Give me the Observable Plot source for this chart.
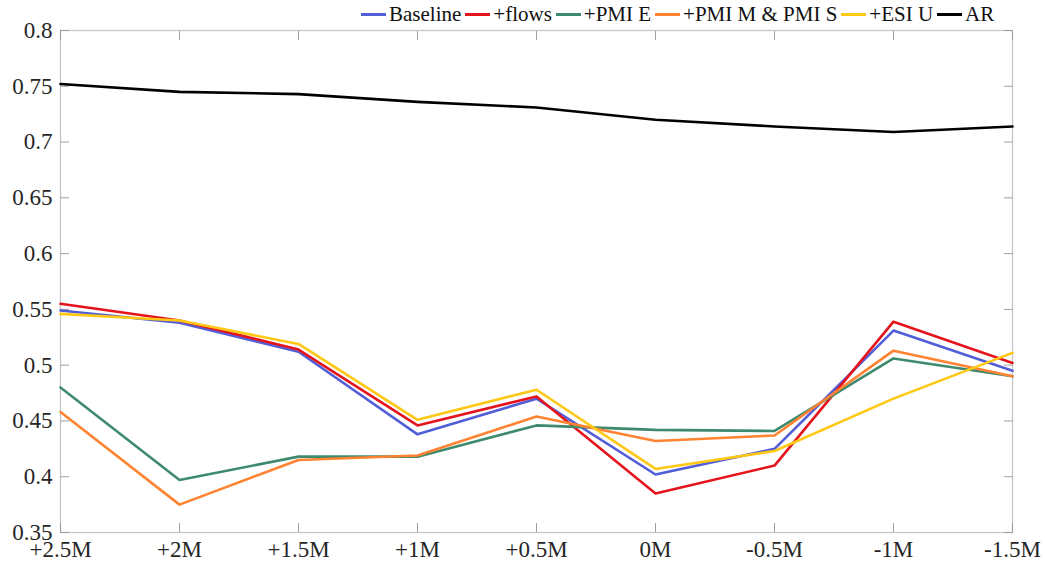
<!DOCTYPE html>
<html>
<head>
<meta charset="utf-8">
<script src="https://cdn.jsdelivr.net/npm/d3@7"></script>
<script src="https://cdn.jsdelivr.net/npm/@observablehq/plot@0.6"></script>
<style>
  html, body { margin: 0; padding: 0; background: #fff; }
  #wrap { position: relative; width: 1045px; height: 569px; font-family: 'Liberation Serif', 'Times New Roman', Times, serif; }
  #legend { position: absolute; top: 2px; left: 361px; display: flex; align-items: center; font-size: 21px; color: #111; white-space: nowrap; }
  #legend .item { display: flex; align-items: center; margin-right: 4px; }
  #legend .sw { width: 25px; height: 3px; margin-right: 3px; }
  #chart { position: absolute; top: 0; left: 0; }
  #chart svg, #chart svg text { font-family: 'Liberation Serif', 'Times New Roman', Times, serif !important; }
</style>
</head>
<body>
<div id="wrap">
  <div id="chart"></div>
  <div id="legend"></div>
</div>
<script>
// Horizon labels along the x axis
const horizons = ["+2.5M", "+2M", "+1.5M", "+1M", "+0.5M", "0M", "-0.5M", "-1M", "-1.5M"];

// Model names and their line colours
const models = ["Baseline", "+flows", "+PMI E", "+PMI M & PMI S", "+ESI U", "AR"];
const colors = ["#525ed8", "#e5141c", "#3e8a6c", "#ff8330", "#ffc814", "#000000"];

// Scores per model, one value per horizon
const baseline = [0.549, 0.538, 0.512, 0.438, 0.470, 0.402, 0.425, 0.531, 0.495];
const flows    = [0.555, 0.540, 0.514, 0.446, 0.472, 0.385, 0.410, 0.539, 0.502];
const pmiE     = [0.480, 0.397, 0.418, 0.418, 0.446, 0.442, 0.441, 0.506, 0.490];
const pmiMS    = [0.458, 0.375, 0.415, 0.419, 0.454, 0.432, 0.437, 0.513, 0.490];
const esiU     = [0.546, 0.540, 0.519, 0.451, 0.478, 0.407, 0.423, 0.470, 0.511];
const ar       = [0.752, 0.745, 0.743, 0.736, 0.731, 0.720, 0.714, 0.709, 0.714];

// Y tick values
const yTicks = [0.35, 0.4, 0.45, 0.5, 0.55, 0.6, 0.65, 0.7, 0.75, 0.8];

const series = [baseline, flows, pmiE, pmiMS, esiU, ar];
const rows = series.flatMap((vals, i) =>
  vals.map((v, j) => ({model: models[i], horizon: horizons[j], value: v}))
);

const tickColor = "#a0a0a0";
const frameColor = "#c6c6c6";
const labelColor = "#262626";

const chart = Plot.plot({
  width: 1045,
  height: 569,
  marginLeft: 60,
  marginRight: 33,
  marginTop: 30,
  marginBottom: 37,
  style: {fontFamily: "'Liberation Serif', 'Times New Roman', Times, serif", background: "#fff"},
  x: {type: "point", domain: horizons, padding: 0},
  y: {domain: [0.35, 0.8]},
  color: {domain: models, range: colors},
  marks: [
    Plot.frame({stroke: frameColor, strokeWidth: 1.3}),
    // inward tick marks on all four sides
    Plot.axisY(yTicks, {anchor: "left", tickSize: -9, text: null, label: null, stroke: tickColor}),
    Plot.axisY(yTicks, {anchor: "right", tickSize: -9, text: null, label: null, stroke: tickColor}),
    Plot.axisX(horizons, {anchor: "bottom", tickSize: -9, text: null, label: null, stroke: tickColor}),
    Plot.axisX(horizons, {anchor: "top", tickSize: -9, text: null, label: null, stroke: tickColor}),
    // tick labels
    Plot.axisY(yTicks, {anchor: "left", tickSize: 0, tickPadding: 8, fontSize: 23, fill: labelColor, label: null, tickFormat: d => String(d)}),
    Plot.axisX(horizons, {anchor: "bottom", tickSize: 0, tickPadding: 8, fontSize: 23, fill: labelColor, label: null}),
    Plot.lineY(rows, {x: "horizon", y: "value", z: "model", stroke: "model", strokeWidth: 2.6})
  ]
});
document.getElementById("chart").appendChild(chart);

// Legend across the top
const legend = document.getElementById("legend");
models.forEach((m, i) => {
  const item = document.createElement("div");
  item.className = "item";
  const sw = document.createElement("span");
  sw.className = "sw";
  sw.style.background = colors[i];
  const label = document.createElement("span");
  label.textContent = m;
  item.appendChild(sw);
  item.appendChild(label);
  legend.appendChild(item);
});
</script>
</body>
</html>
